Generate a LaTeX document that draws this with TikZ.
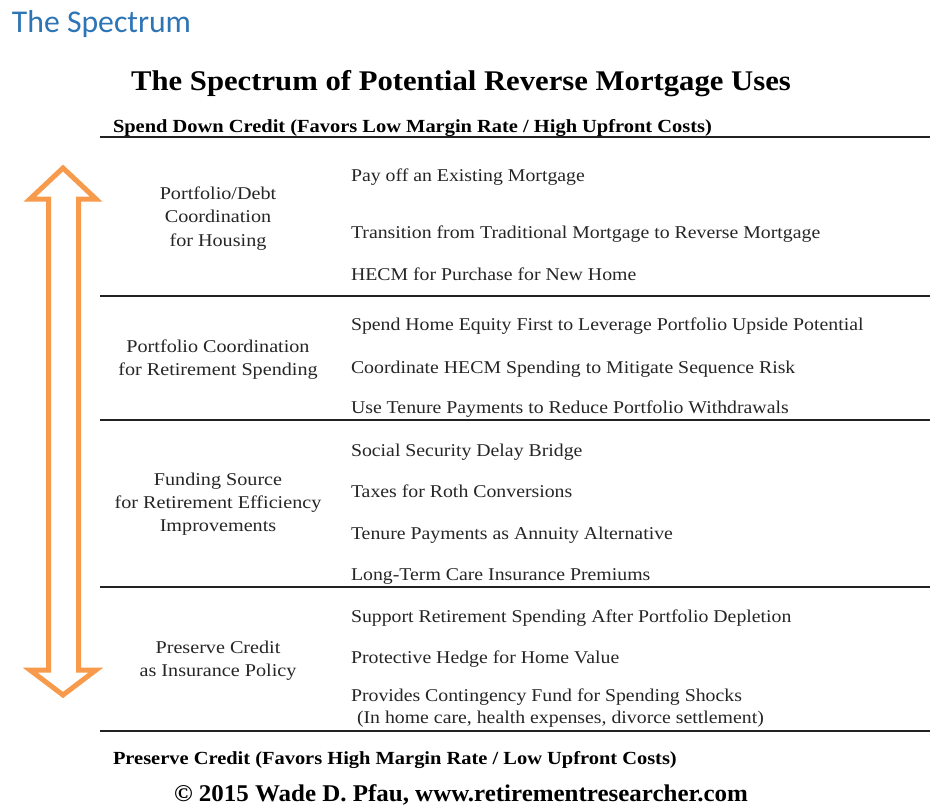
\documentclass[tikz,border=0pt]{standalone}
\usepackage{fontspec}
\setmainfont{Liberation Serif}
\newfontfamily\bodyf[FakeStretch=1.10]{Liberation Serif}
\newfontfamily\catf[FakeStretch=1.12]{Liberation Serif}
\newfontfamily\titlef[FakeStretch=1.077]{Liberation Serif}
\newfontfamily\boldf[FakeStretch=1.105]{Liberation Serif}
\newfontfamily\copyf[FakeStretch=1.04]{Liberation Serif}
\newfontfamily\headf{Carlito}
\definecolor{specblue}{HTML}{2E75B6}
\definecolor{arroworange}{HTML}{F79A4C}
\definecolor{rulegray}{HTML}{222222}
\begin{document}
\begin{tikzpicture}[x=1pt,y=-1pt,
  every node/.style={inner sep=0pt,outer sep=0pt},
  item/.style={anchor=base west,font=\bodyf\fontsize{18}{22}\selectfont,text=black!85},
  cat/.style={anchor=base,font=\catf\fontsize{18}{22}\selectfont,text=black!85},
  sep/.style={draw=rulegray,line width=1.4pt},
  bold/.style={anchor=base west,font=\boldf\bfseries\fontsize{18.5}{22}\selectfont}]
\useasboundingbox (0,0) rectangle (950,808);
\fill[white] (0,0) rectangle (950,808);

\node[anchor=base west,font=\headf\fontsize{31.7}{36}\selectfont,text=specblue] (hdr) at (12,33) {The Spectrum};
\node[anchor=base,font=\titlef\bfseries\fontsize{28.5}{32}\selectfont] (title) at (461,90) {The Spectrum of Potential Reverse Mortgage Uses};
\node[bold] (top) at (113,132) {Spend Down Credit (Favors Low Margin Rate / High Upfront Costs)};

\coordinate (l0a) at (100,137); \coordinate (l0b) at (930,137);
\coordinate (l1a) at (100,296); \coordinate (l1b) at (930,296);
\coordinate (l2a) at (100,420); \coordinate (l2b) at (930,420);
\coordinate (l3a) at (100,587); \coordinate (l3b) at (930,587);
\coordinate (l4a) at (100,731); \coordinate (l4b) at (930,731);
\draw[sep] (l0a) -- (l0b);
\draw[sep] (l1a) -- (l1b);
\draw[sep] (l2a) -- (l2b);
\draw[sep] (l3a) -- (l3b);
\draw[sep] (l4a) -- (l4b);

% categories
\node[cat] (c1a) at (218,199) {Portfolio/Debt};
\node[cat] (c1b) at (218,222) {Coordination};
\node[cat] (c1c) at (218,246) {for Housing};
\node[cat] (c2a) at (218,352) {Portfolio Coordination};
\node[cat] (c2b) at (218,375) {for Retirement Spending};
\node[cat] (c3a) at (218,485) {Funding Source};
\node[cat] (c3b) at (218,508) {for Retirement Efficiency};
\node[cat] (c3c) at (218,531) {Improvements};
\node[cat] (c4a) at (218,653) {Preserve Credit};
\node[cat] (c4b) at (218,676) {as Insurance Policy};

% items
\node[item] (i1) at (351,181) {Pay off an Existing Mortgage};
\node[item] (i2) at (351,238) {Transition from Traditional Mortgage to Reverse Mortgage};
\node[item] (i3) at (351,280) {HECM for Purchase for New Home};
\node[item] (i4) at (351,330) {Spend Home Equity First to Leverage Portfolio Upside Potential};
\node[item] (i5) at (351,373) {Coordinate HECM Spending to Mitigate Sequence Risk};
\node[item] (i6) at (351,413) {Use Tenure Payments to Reduce Portfolio Withdrawals};
\node[item] (i7) at (351,456) {Social Security Delay Bridge};
\node[item] (i8) at (351,497) {Taxes for Roth Conversions};
\node[item] (i9) at (351,539) {Tenure Payments as Annuity Alternative};
\node[item] (i10) at (351,580) {Long-Term Care Insurance Premiums};
\node[item] (i11) at (351,622) {Support Retirement Spending After Portfolio Depletion};
\node[item] (i12) at (351,663) {Protective Hedge for Home Value};
\node[item] (i13) at (351,701) {Provides Contingency Fund for Spending Shocks};
\node[item] (i14) at (357,723) {(In home care, health expenses, divorce settlement)};

\node[bold] (bot) at (113,764) {Preserve Credit (Favors High Margin Rate / Low Upfront Costs)};
\node[anchor=base,font=\copyf\bfseries\fontsize{24}{28}\selectfont] (copy) at (461,801) {\textcopyright{} 2015 Wade D. Pfau, www.retirementresearcher.com};

% double arrow
\draw[arroworange,line width=5pt,line join=miter]
  (63,168) -- (96,199) -- (78.5,199) -- (78.5,670) -- (96,670) -- (63,695)
  -- (30,670) -- (48.5,670) -- (48.5,199) -- (30,199) -- cycle;
\end{tikzpicture}
\end{document}
